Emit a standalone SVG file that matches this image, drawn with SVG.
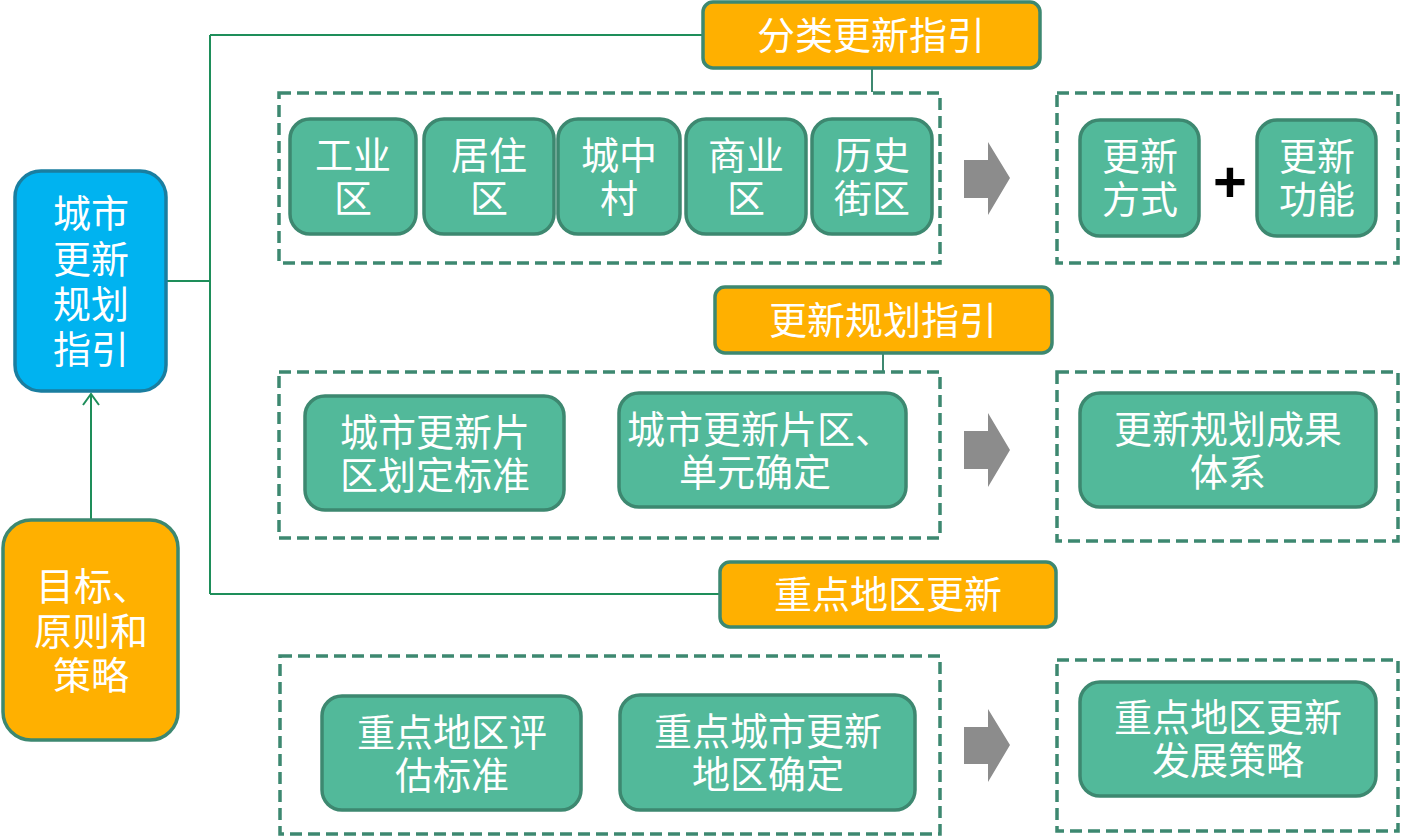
<svg xmlns="http://www.w3.org/2000/svg" width="1401" height="838" viewBox="0 0 1401 838">
<defs>
<style>
text{font-family:"Noto Sans CJK SC","Noto Sans",sans-serif;fill:#fff;text-anchor:middle;font-size:38px;}
.g{fill:#52B99A;stroke:#3D8870;stroke-width:3.5}
.o{fill:#FFB000;stroke:#3D8870;stroke-width:3.5}
.b{fill:#00B3F0;stroke:#1A7EA0;stroke-width:3.5}
.d{fill:none;stroke:#3D8870;stroke-width:3.5;stroke-dasharray:12 6}
.c{fill:none;stroke:#1E8E5A;stroke-width:2}
.ar{fill:#8C8C8C}
</style>
</defs>
<g id="connectors">
<path class="c" d="M91,520 V394 M83,405 L91,394 L99,405"/>
<path class="c" d="M166,281 H210 M210,35 V594 M210,35 H703 M210,594 H720"/>
<path class="c" d="M872,68 V92 M883,353 V372" style="stroke:#3D8870"/>
<path class="ar" d="M964,160 H988 V142 L1010,178 L988,215 V198 H964 Z"/>
<path class="ar" d="M964,431 H988 V413 L1010,450 L988,487 V469 H964 Z"/>
<path class="ar" d="M964,727 H988 V709 L1010,745 L988,782 V764 H964 Z"/>
</g>
<g id="groups">
<rect class="d" x="279" y="93" width="661" height="170"/>
<rect class="d" x="1057" y="93" width="341" height="170"/>
<rect class="d" x="279" y="372" width="661" height="166"/>
<rect class="d" x="1057" y="372" width="341" height="169"/>
<rect class="d" x="280" y="656" width="660" height="178"/>
<rect class="d" x="1057" y="660" width="341" height="171"/>
</g>
<g id="n-main"><rect class="b" x="15" y="171" width="151" height="220" rx="26"/>
<text x="91" y="227">城市</text><text x="91" y="273">更新</text><text x="91" y="318">规划</text><text x="91" y="363">指引</text></g>
<g id="n-goal"><rect class="o" x="3" y="520" width="175" height="220" rx="28"/>
<text x="93" y="600">目标、</text><text x="91" y="645">原则和</text><text x="91" y="689">策略</text></g>
<g id="n-l1"><rect class="o" x="703" y="2" width="337" height="66" rx="10"/><text x="871" y="49">分类更新指引</text></g>
<g id="n-l2"><rect class="o" x="715" y="287" width="337" height="66" rx="10"/><text x="883" y="334">更新规划指引</text></g>
<g id="n-l3"><rect class="o" x="720" y="562" width="336" height="65" rx="10"/><text x="888" y="608">重点地区更新</text></g>
<g id="n-gy"><rect class="g" x="290" y="119" width="126" height="115" rx="20"/><text x="353" y="169">工业</text><text x="353" y="212">区</text></g>
<g id="n-jz"><rect class="g" x="424" y="119" width="130" height="115" rx="20"/><text x="489" y="169">居住</text><text x="489" y="212">区</text></g>
<g id="n-czc"><rect class="g" x="558" y="119" width="122" height="115" rx="20"/><text x="619" y="169">城中</text><text x="619" y="212">村</text></g>
<g id="n-sy"><rect class="g" x="686" y="119" width="120" height="115" rx="20"/><text x="746" y="169">商业</text><text x="746" y="212">区</text></g>
<g id="n-ls"><rect class="g" x="812" y="119" width="120" height="115" rx="20"/><text x="872" y="169">历史</text><text x="872" y="212">街区</text></g>
<g id="n-fs"><rect class="g" x="1080" y="120" width="119" height="116" rx="20"/><text x="1140" y="170">更新</text><text x="1140" y="213">方式</text></g>
<text x="1230" y="202" style="fill:#000;font-size:58px;font-family:'Liberation Sans',sans-serif;font-weight:bold">+</text>
<g id="n-gn"><rect class="g" x="1257" y="120" width="119" height="116" rx="20"/><text x="1317" y="170">更新</text><text x="1317" y="213">功能</text></g>
<g id="n-hd"><rect class="g" x="305" y="396" width="259" height="114" rx="20"/><text x="435" y="446">城市更新片</text><text x="435" y="489">区划定标准</text></g>
<g id="n-qd"><rect class="g" x="619" y="393" width="287" height="114" rx="20"/><text x="762" y="443" dx="-2">城市更新片区、</text><text x="755" y="486">单元确定</text></g>
<g id="n-cg"><rect class="g" x="1080" y="393" width="296" height="114" rx="20"/><text x="1228" y="443">更新规划成果</text><text x="1228" y="486">体系</text></g>
<g id="n-pg"><rect class="g" x="322" y="696" width="259" height="114" rx="20"/><text x="452" y="746">重点地区评</text><text x="452" y="789">估标准</text></g>
<g id="n-dq"><rect class="g" x="620" y="695" width="295" height="115" rx="20"/><text x="768" y="745">重点城市更新</text><text x="768" y="788">地区确定</text></g>
<g id="n-cl"><rect class="g" x="1080" y="682" width="296" height="114" rx="20"/><text x="1228" y="731">重点地区更新</text><text x="1228" y="774">发展策略</text></g>
</svg>
